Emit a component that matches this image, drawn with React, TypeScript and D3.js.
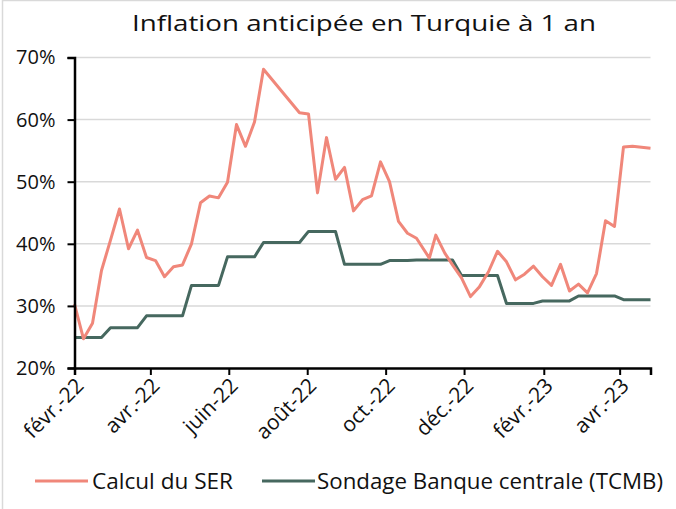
import React, { useEffect, useRef } from "react";
import * as d3 from "d3";

const WIDTH = 676;
const HEIGHT = 509;

// calcul du SER (hebdo, avec trous)
const serDates = [
    "2022-02-01", "2022-02-08", "2022-02-15", "2022-02-22", "2022-03-01", "2022-03-08", "2022-03-15",
    "2022-03-22", "2022-03-29", "2022-04-05", "2022-04-12", "2022-04-19", "2022-04-26", "2022-05-03",
    "2022-05-10", "2022-05-17", "2022-05-24", "2022-05-31", "2022-06-07", "2022-06-14", "2022-06-21",
    "2022-06-28", "2022-07-26", "2022-08-02", "2022-08-09", "2022-08-16", "2022-08-23", "2022-08-30",
    "2022-09-06", "2022-09-13", "2022-09-20", "2022-09-27", "2022-10-04", "2022-10-11", "2022-10-18",
    "2022-10-25", "2022-11-04", "2022-11-09", "2022-11-16", "2022-11-22", "2022-11-29", "2022-12-06",
    "2022-12-13", "2022-12-20", "2022-12-27", "2023-01-03", "2023-01-10", "2023-01-17", "2023-01-24",
    "2023-01-31", "2023-02-07", "2023-02-14", "2023-02-21", "2023-02-28", "2023-03-07", "2023-03-14",
    "2023-03-21", "2023-03-28", "2023-04-04", "2023-04-11", "2023-04-25",
];
const serValues = [
    30.3, 24.7, 27.2, 35.7, 40.6, 45.6, 39.2,
    42.2, 37.8, 37.3, 34.7, 36.3, 36.6, 40.0,
    46.6, 47.7, 47.4, 49.9, 59.2, 55.7, 59.6,
    68.1, 61.1, 60.9, 48.2, 57.1, 50.4, 52.3,
    45.3, 47.1, 47.7, 53.2, 50.0, 43.6, 41.7,
    40.9, 37.7, 41.4, 38.5, 36.6, 34.5, 31.5,
    33.1, 35.5, 38.8, 37.1, 34.2, 35.1, 36.4,
    34.7, 33.3, 36.7, 32.4, 33.5, 32.1, 35.2,
    43.7, 42.8, 55.6, 55.7, 55.4,
];

// sondage TCMB, valeur mensuelle reportée chaque semaine
const tcmbValues = [
    24.9, 24.9, 24.9, 24.9, 26.5, 26.5, 26.5, 26.5, 28.4, 28.4,
    28.4, 28.4, 28.4, 33.3, 33.3, 33.3, 33.3, 37.9, 37.9, 37.9,
    37.9, 40.2, 40.2, 40.2, 40.2, 40.2, 42.0, 42.0, 42.0, 42.0,
    36.7, 36.7, 36.7, 36.7, 36.7, 37.3, 37.3, 37.3, 37.4, 37.4,
    37.4, 37.4, 37.4, 34.9, 34.9, 34.9, 34.9, 34.9, 30.4, 30.4,
    30.4, 30.4, 30.8, 30.8, 30.8, 30.8, 31.6, 31.6, 31.6, 31.6,
    31.6, 31.0, 31.0, 31.0, 31.0,
];
const tcmbStart = "2022-02-01";

const yTicks = [20, 30, 40, 50, 60, 70];
const xTickDates = [
    "2022-02-01", "2022-04-01", "2022-06-01", "2022-08-01",
    "2022-10-01", "2022-12-01", "2023-02-01", "2023-04-01",
];
const xTickLabels = ["févr.-22", "avr.-22", "juin-22", "août-22", "oct.-22", "déc.-22", "févr.-23", "avr.-23"];

const title = "Inflation anticipée en Turquie à 1 an";
const seriesNames = ["Calcul du SER", "Sondage Banque centrale (TCMB)"];
const colors = ["#F0877A", "#46685F"];

const FONT = "'Open Sans', 'Noto Sans', sans-serif";

function drawChart(container: SVGSVGElement) {
    const svg = d3.select(container);
    svg.selectAll("*").remove();

    const parse = d3.utcParse("%Y-%m-%d");
    const margin = { left: 74.5, right: 25.5, top: 57.5, bottom: 141 };

    const x = d3.scaleUtc()
        .domain([parse("2022-02-01")!, parse("2023-04-25")!])
        .range([margin.left, WIDTH - margin.right]);
    const y = d3.scaleLinear()
        .domain([20, 70])
        .range([HEIGHT - margin.bottom, margin.top]);

    // cadre léger
    svg.append("path")
        .attr("d", `M2.5,${HEIGHT} V0.5 H${WIDTH}`)
        .attr("fill", "none")
        .attr("stroke", "#d9d9d9")
        .attr("stroke-width", 1.5);

    svg.append("text")
        .attr("x", 132)
        .attr("y", 31)
        .attr("textLength", 464)
        .attr("lengthAdjust", "spacingAndGlyphs")
        .attr("font-family", FONT)
        .attr("font-size", 22)
        .attr("fill", "#111")
        .text(title);

    // grille
    svg.append("g")
        .selectAll("line")
        .data(yTicks.slice(1))
        .join("line")
        .attr("x1", margin.left)
        .attr("x2", WIDTH - margin.right)
        .attr("y1", d => y(d))
        .attr("y2", d => y(d))
        .attr("stroke", "#d9d9d9")
        .attr("stroke-width", 1.5);

    const serData = serDates.map((d, i) => ({ date: parse(d)!, value: serValues[i] }));
    const t0 = parse(tcmbStart)!;
    const tcmbData = tcmbValues.map((v, i) => ({ date: d3.utcDay.offset(t0, i * 7), value: v }));

    const line = d3.line<{ date: Date; value: number }>()
        .x(d => x(d.date))
        .y(d => y(d.value));

    svg.append("path")
        .datum(tcmbData)
        .attr("d", line)
        .attr("fill", "none")
        .attr("stroke", colors[1])
        .attr("stroke-width", 3)
        .attr("stroke-linejoin", "round");

    svg.append("path")
        .datum(serData)
        .attr("d", line)
        .attr("fill", "none")
        .attr("stroke", colors[0])
        .attr("stroke-width", 3)
        .attr("stroke-linejoin", "round");

    // axe y
    const yAxis = svg.append("g")
        .attr("transform", `translate(${margin.left},0)`)
        .call(d3.axisLeft(y).tickValues(yTicks).tickSize(7).tickPadding(12).tickFormat(d => `${d}%`));
    yAxis.select(".domain").attr("stroke", "#000").attr("stroke-width", 2.5);
    yAxis.selectAll(".tick line").attr("stroke", "#000").attr("stroke-width", 2);
    yAxis.selectAll("text")
        .attr("font-family", FONT)
        .attr("font-size", 20)
        .attr("fill", "#111");

    // axe x
    const xAxis = svg.append("g")
        .attr("transform", `translate(0,${HEIGHT - margin.bottom})`)
        .call(d3.axisBottom(x)
            .tickValues(xTickDates.map(d => parse(d)!))
            .tickSize(7)
            .tickFormat((_, i) => xTickLabels[i]));
    xAxis.select(".domain").attr("stroke", "#000").attr("stroke-width", 2.5);
    xAxis.selectAll(".tick line").attr("stroke", "#000").attr("stroke-width", 2);
    xAxis.selectAll("text")
        .attr("font-family", FONT)
        .attr("font-size", 21)
        .attr("fill", "#111")
        .attr("text-anchor", "end")
        .attr("dy", 0)
        .attr("transform", "translate(3,12) rotate(-45)");

    // légende
    const legend = svg.append("g").attr("transform", "translate(0,481)");
    const items = [
        { x0: 35, x1: 88, tx: 92, w: 141 },
        { x0: 262, x1: 315, tx: 317, w: 346 },
    ];
    items.forEach((it, i) => {
        legend.append("line")
            .attr("x1", it.x0)
            .attr("x2", it.x1)
            .attr("stroke", colors[i])
            .attr("stroke-width", 3);
        legend.append("text")
            .attr("x", it.tx)
            .attr("dy", "0.36em")
            .attr("textLength", it.w)
            .attr("lengthAdjust", "spacingAndGlyphs")
            .attr("font-family", FONT)
            .attr("font-size", 21)
            .attr("fill", "#111")
            .text(seriesNames[i]);
    });
}

export default function App() {
    const ref = useRef<SVGSVGElement>(null);

    useEffect(() => {
        if (ref.current) drawChart(ref.current);
    }, []);

    return (
        <svg
            ref={ref}
            width={WIDTH}
            height={HEIGHT}
            style={{ position: "absolute", left: 0, top: 0, background: "#fff" }}
        />
    );
}
